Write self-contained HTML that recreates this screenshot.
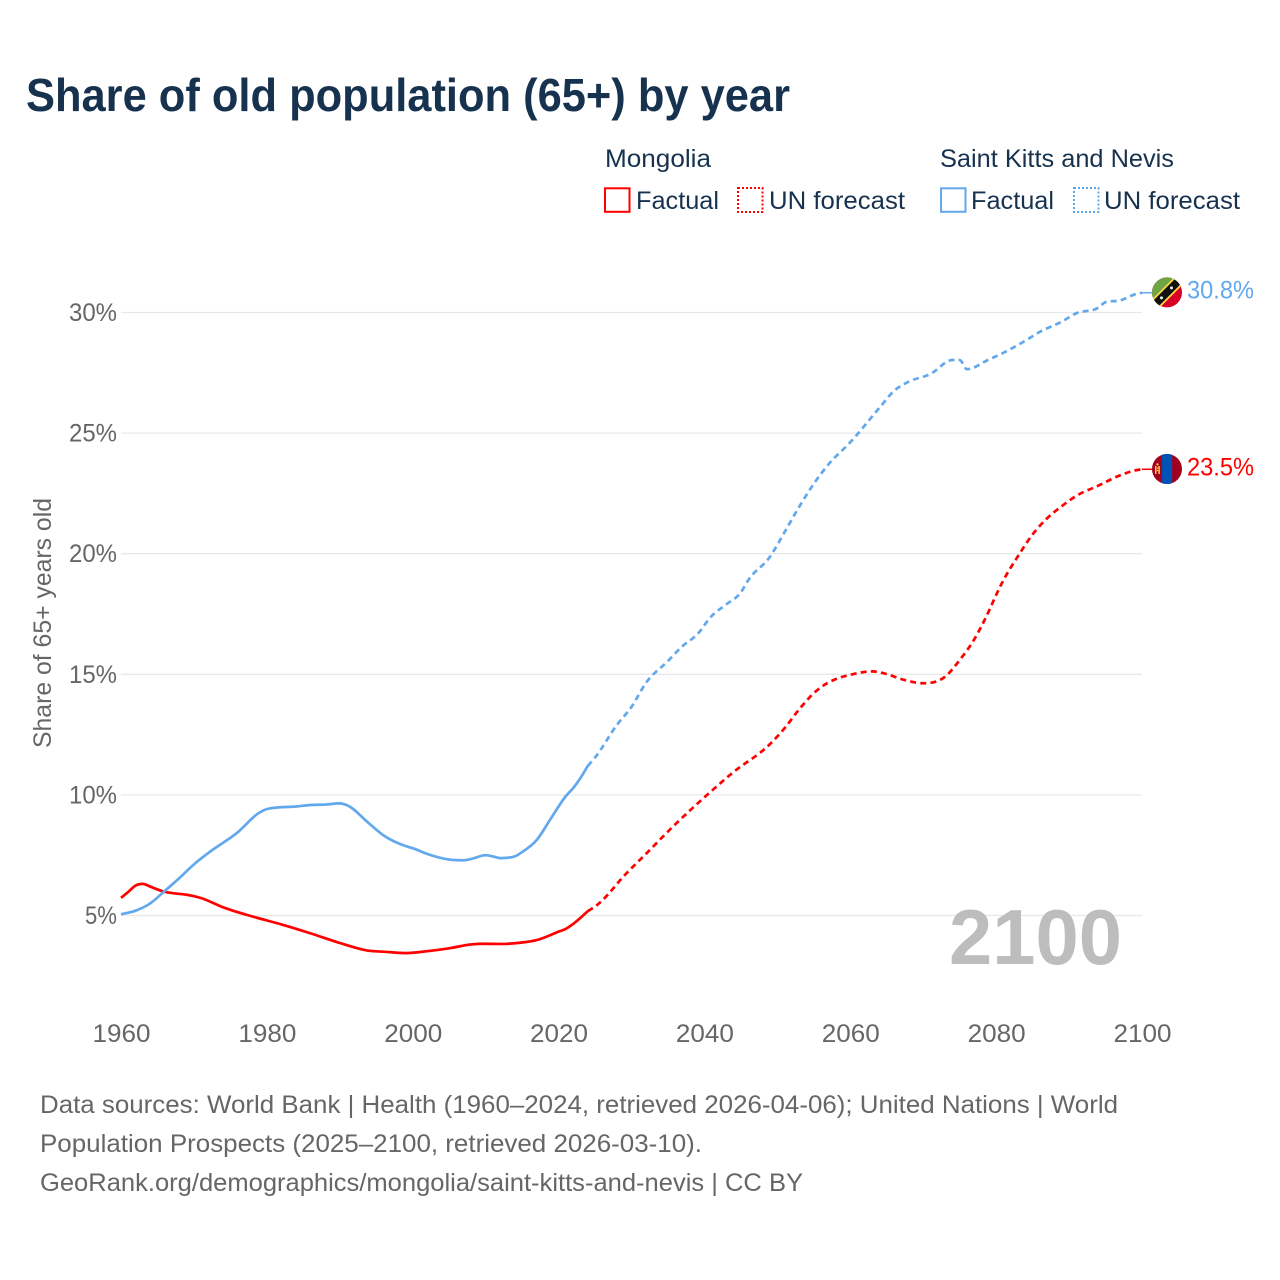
<!DOCTYPE html>
<html lang="en">
<head>
<meta charset="utf-8">
<title>Share of old population (65+) by year</title>
<style>
html,body{margin:0;padding:0;background:#fff;width:1280px;height:1280px;overflow:hidden}
svg{display:block;font-family:"Liberation Sans",sans-serif}
.legend-text{font-size:25px;fill:#17324f}
.tick{font-size:25px;fill:#666}
.foot{font-size:25px;fill:#666}
</style>
</head>
<body>
<svg id="chart" width="1280" height="1280" viewBox="0 0 1280 1280" xmlns="http://www.w3.org/2000/svg">
  <rect width="1280" height="1280" fill="#fff"/>
  <text x="26" y="111" font-size="46" font-weight="700" fill="#17324f" textLength="764" lengthAdjust="spacingAndGlyphs">Share of old population (65+) by year</text>

  <g>
    <text class="legend-text" x="605" y="167" textLength="106" lengthAdjust="spacingAndGlyphs">Mongolia</text>
    <rect x="605" y="188.3" width="24.5" height="23.5" fill="none" stroke="#ff0000" stroke-width="2"/>
    <text class="legend-text" x="636" y="209" textLength="83" lengthAdjust="spacingAndGlyphs">Factual</text>
    <rect x="738" y="188" width="24.5" height="24" fill="none" stroke="#ff0000" stroke-width="2" stroke-dasharray="2 2"/>
    <text class="legend-text" x="769" y="209" textLength="136" lengthAdjust="spacingAndGlyphs">UN forecast</text>

    <text class="legend-text" x="940" y="167" textLength="234" lengthAdjust="spacingAndGlyphs">Saint Kitts and Nevis</text>
    <rect x="941" y="188.3" width="24.5" height="23.5" fill="none" stroke="#62a8ec" stroke-width="2"/>
    <text class="legend-text" x="971" y="209" textLength="83" lengthAdjust="spacingAndGlyphs">Factual</text>
    <rect x="1074" y="188" width="24.5" height="24" fill="none" stroke="#62a8ec" stroke-width="2" stroke-dasharray="2 2"/>
    <text class="legend-text" x="1104" y="209" textLength="136" lengthAdjust="spacingAndGlyphs">UN forecast</text>
  </g>

  <g id="grid"></g>
  <g id="yticks"></g>
  <g id="xticks"></g>
  <text transform="translate(51,623) rotate(-90)" text-anchor="middle" font-size="25" fill="#666" textLength="250" lengthAdjust="spacingAndGlyphs">Share of 65+ years old</text>
  <text x="949" y="964" font-size="78" font-weight="700" fill="#bdbdbd" textLength="173" lengthAdjust="spacingAndGlyphs">2100</text>
  <g id="series"></g>

  <g id="flag-kn">
    <clipPath id="clip-kn"><circle r="15"/></clipPath>
    <g clip-path="url(#clip-kn)">
      <rect x="-16" y="-16" width="32" height="32" fill="#d80027"/>
      <polygon points="-16,-16 16,-16 -16,16" fill="#6da544"/>
      <polygon points="-16,8 8,-16 16,-16 16,-8 -8,16 -16,16" fill="#ffda44"/>
      <polygon points="-16,10.5 10.5,-16 16,-16 16,-10.5 -10.5,16 -16,16" fill="#111"/>
      <circle cx="-5.5" cy="5.5" r="1.5" fill="#eee"/>
      <circle cx="4.5" cy="-4.5" r="1.5" fill="#eee"/>
    </g>
  </g>
  <g id="flag-mn">
    <clipPath id="clip-mn"><circle r="15"/></clipPath>
    <g clip-path="url(#clip-mn)">
      <rect x="-16" y="-16" width="32" height="32" fill="#a2001d"/>
      <rect x="-5.2" y="-16" width="10.4" height="32" fill="#0052b4"/>
      <rect x="-12" y="-3" width="1.4" height="8" fill="#ffda44"/>
      <rect x="-8.6" y="-3" width="1.4" height="8" fill="#ffda44"/>
      <rect x="-10.2" y="-1.5" width="1.4" height="1.3" fill="#ffda44"/>
      <rect x="-10.2" y="1" width="1.4" height="1.3" fill="#ffda44"/>
      <circle cx="-9.5" cy="-4.6" r="1.1" fill="#ffda44"/>
    </g>
  </g>
  <g id="end-labels"></g>

  <g>
    <text class="foot" x="40" y="1113" textLength="1078" lengthAdjust="spacingAndGlyphs">Data sources: World Bank | Health (1960–2024, retrieved 2026-04-06); United Nations | World</text>
    <text class="foot" x="40" y="1152" textLength="662" lengthAdjust="spacingAndGlyphs">Population Prospects (2025–2100, retrieved 2026-03-10).</text>
    <text class="foot" x="40" y="1191" textLength="763" lengthAdjust="spacingAndGlyphs">GeoRank.org/demographics/mongolia/saint-kitts-and-nevis | CC BY</text>
  </g>
</svg>
<script>
const yTickValues = [5, 10, 15, 20, 25, 30];
const xTickValues = [1960, 1980, 2000, 2020, 2040, 2060, 2080, 2100];

const mongoliaFactualYears = [1960,1961,1962,1963,1964,1965,1966,1967,1969,1970,1971,1974,1978,1982,1986,1990,1993,1994,1996,1999,2002,2005,2008,2010,2012,2015,2017,2018,2020,2021,2022,2023,2024];
const mongoliaFactualValues = [5.73,5.98,6.24,6.31,6.2,6.08,5.98,5.93,5.86,5.8,5.72,5.34,4.96,4.63,4.26,3.86,3.6,3.54,3.5,3.44,3.52,3.64,3.8,3.83,3.82,3.88,3.98,4.08,4.33,4.45,4.65,4.9,5.18];
const mongoliaForecastYears = [2024,2025,2026,2029,2032,2036,2040,2044,2049,2051,2053,2055,2056,2058,2060,2063,2065,2067,2070,2073,2075,2077,2079,2080,2081,2083,2085,2087,2089,2091,2094,2097,2099,2100];
const mongoliaForecastValues = [5.18,5.37,5.63,6.65,7.56,8.78,9.9,10.95,12.11,12.77,13.55,14.22,14.47,14.8,14.98,15.12,15.01,14.8,14.63,14.9,15.59,16.45,17.62,18.29,18.9,19.9,20.8,21.47,21.97,22.4,22.82,23.25,23.45,23.5];

const kittsFactualYears = [1960,1962,1964,1966,1968,1970,1972,1976,1979,1980,1984,1986,1988,1990,1991,1994,1996,1999,2000,2002,2005,2007,2008,2010,2011,2012,2014,2015,2017,2019,2021,2022,2023,2024];
const kittsFactualValues = [5.05,5.2,5.5,6.02,6.55,7.12,7.6,8.45,9.27,9.41,9.52,9.58,9.6,9.65,9.57,8.82,8.32,7.88,7.79,7.55,7.32,7.29,7.34,7.5,7.45,7.38,7.45,7.63,8.13,9.05,9.95,10.28,10.7,11.2];
const kittsForecastYears = [2024,2025,2028,2030,2032,2035,2037,2039,2041,2043,2045,2046,2049,2051,2053,2055,2057,2060,2064,2066,2068,2071,2074,2075,2076,2079,2081,2084,2086,2089,2091,2094,2095,2097,2099,2100];
const kittsForecastValues = [11.2,11.55,12.9,13.65,14.65,15.55,16.17,16.65,17.42,17.9,18.4,18.9,19.88,20.9,21.95,22.9,23.7,24.62,26.05,26.75,27.13,27.45,28.03,28.03,27.65,28.05,28.33,28.83,29.2,29.62,29.97,30.2,30.43,30.5,30.75,30.82];

const mongoliaLabel = "23.5%";
const kittsLabel = "30.8%";

const NS = "http://www.w3.org/2000/svg";
const xScale = year => 121 + (year - 1960) * (1142 - 121) / 140;
const yScale = value => 915.5 - (value - 5) * (915.5 - 312.5) / 25;

function make(tag, parent, attrs) {
  const el = document.createElementNS(NS, tag);
  for (const k in attrs) el.setAttribute(k, attrs[k]);
  parent.appendChild(el);
  return el;
}

function monotonePath(xs, ys) {
  const n = xs.length;
  const px = xs.map(xScale), py = ys.map(yScale);
  const d = [], m = new Array(n);
  for (let i = 0; i < n - 1; i++) d[i] = (py[i + 1] - py[i]) / (px[i + 1] - px[i]);
  m[0] = d[0];
  m[n - 1] = d[n - 2];
  for (let i = 1; i < n - 1; i++) {
    if (d[i - 1] * d[i] <= 0) m[i] = 0;
    else {
      const h0 = px[i] - px[i - 1], h1 = px[i + 1] - px[i];
      m[i] = (d[i - 1] * h1 + d[i] * h0) / (h0 + h1);
      const lim = 3 * Math.min(Math.abs(d[i - 1]), Math.abs(d[i]));
      if (Math.abs(m[i]) > lim) m[i] = Math.sign(m[i]) * lim;
    }
  }
  let s = "M" + px[0].toFixed(2) + " " + py[0].toFixed(2);
  for (let i = 0; i < n - 1; i++) {
    const h = (px[i + 1] - px[i]) / 3;
    s += "C" + (px[i] + h).toFixed(2) + " " + (py[i] + m[i] * h).toFixed(2) + " " +
      (px[i + 1] - h).toFixed(2) + " " + (py[i + 1] - m[i + 1] * h).toFixed(2) + " " +
      px[i + 1].toFixed(2) + " " + py[i + 1].toFixed(2);
  }
  return s;
}

const gridGroup = document.getElementById("grid");
const yTickGroup = document.getElementById("yticks");
const xTickGroup = document.getElementById("xticks");
const seriesGroup = document.getElementById("series");
const endLabelGroup = document.getElementById("end-labels");

yTickValues.forEach(v => {
  const line = make("line", gridGroup, {x1: xScale(1960), x2: xScale(2100), y1: yScale(v), y2: yScale(v), stroke: "#e8e8e8", "stroke-width": 1.3});
  
  
  const label = make("text", yTickGroup, {class: "tick", x: 117, y: yScale(v) + 8.5, "text-anchor": "end", textLength: String(v).length * 16 + 16, lengthAdjust: "spacingAndGlyphs"});
  label.textContent = v + "%";
  
  
});

xTickValues.forEach(v => {
  const label = make("text", xTickGroup, {class: "tick", x: xScale(v) + 0.5, y: 1042, "text-anchor": "middle", textLength: 58, lengthAdjust: "spacingAndGlyphs"});
  label.textContent = v;
  
  
});

function drawSeries(years, values, color, dashed) {
  const attrs = {d: monotonePath(years, values), fill: "none", stroke: color, "stroke-width": 2.7, "stroke-linejoin": "round"};
  if (dashed) attrs["stroke-dasharray"] = "6 4.2";
  const path = make("path", seriesGroup, attrs);
  
  
}

function drawEnd(years, values, color, text, flagId) {
  const lastX = xScale(years[years.length - 1]);
  const lastY = yScale(values[values.length - 1]);
  const connector = make("line", seriesGroup, {x1: lastX, x2: lastX + 10, y1: lastY, y2: lastY, stroke: color, "stroke-width": 1.5});
  
  
  document.getElementById(flagId).setAttribute("transform", "translate(" + (lastX + 25) + "," + (lastY - 0.3) + ")");
  const label = make("text", endLabelGroup, {x: lastX + 45, y: lastY + 6, "font-size": 25, fill: color, textLength: 67, lengthAdjust: "spacingAndGlyphs"});
  label.textContent = text;
  
  
}

drawSeries(mongoliaFactualYears, mongoliaFactualValues, "#ff0000", false);
drawSeries(mongoliaForecastYears, mongoliaForecastValues, "#ff0000", true);
drawSeries(kittsFactualYears, kittsFactualValues, "#62a8ec", false);
drawSeries(kittsForecastYears, kittsForecastValues, "#62a8ec", true);
drawEnd(mongoliaForecastYears, mongoliaForecastValues, "#ff0000", mongoliaLabel, "flag-mn");
drawEnd(kittsForecastYears, kittsForecastValues, "#62a8ec", kittsLabel, "flag-kn");
</script>
</body>
</html>
